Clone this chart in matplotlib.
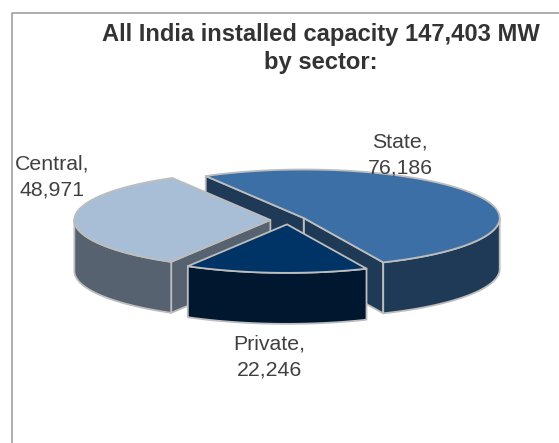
import numpy as np
import matplotlib
matplotlib.use("Agg")
import matplotlib.pyplot as plt
from matplotlib.patches import Polygon

sectors = ["Central", "Private", "State"]
capacity_mw = [48971, 22246, 76186]
top_colors = ["#A8BDD6", "#003366", "#3B6FA5"]
side_colors = ["#566270", "#00182F", "#1F3A56"]
value_labels = ["Central,\n48,971", "Private,\n22,246", "State,\n76,186"]
label_positions = [(52, 177), (269, 357), (400, 155)]

# Pie projection, in figure pixels
CX, CY = 288, 220
RX, RY = 196, 48.5
DEPTH = 51
EXPLODE = 0.09
START_DEG = 120
EDGE = "#BDBDBD"
TEXT = "#404040"

plt.rcParams["font.family"] = ["Liberation Sans", "DejaVu Sans"]
fig = plt.figure(figsize=(5.59, 4.43), dpi=100, facecolor="white")
ax = fig.add_axes([0, 0, 1, 1])
ax.set_xlim(0, 559)
ax.set_ylim(443, 0)
ax.axis("off")

# Chart frame: open at the right and at the bottom of the canvas
ax.plot([11.5, 11.5, 559], [443, 12.5, 12.5], color="#A0A0A0", lw=1.2)


def rim(cx, cy, t):
    """Points on the projected circle; t is measured counter-clockwise on screen."""
    return cx + RX * np.cos(t), cy - RY * np.sin(t)


def extrude(xs, ys, color, z):
    """Vertical wall hanging below a run of top-surface points."""
    pts = np.column_stack([xs, ys])
    low = pts + [0, DEPTH]
    ax.add_patch(Polygon(np.vstack([pts, low[::-1]]), closed=True, facecolor=color,
                         edgecolor=EDGE, lw=1.3, joinstyle="round", zorder=z))


spans = np.array(capacity_mw) / sum(capacity_mw) * 2 * np.pi
starts = np.radians(START_DEG) + np.concatenate([[0], np.cumsum(spans)[:-1]])

# State sits at the back, then Central, then Private in front
for z, i in enumerate([2, 0, 1]):
    t0, t1 = starts[i], starts[i] + spans[i]
    mid = (t0 + t1) / 2
    cx = CX + EXPLODE * RX * np.cos(mid)
    cy = CY - EXPLODE * RY * np.sin(mid)
    t = np.linspace(t0, t1, 240)
    xs, ys = rim(cx, cy, t)

    # Radial walls whose outward side points towards the viewer
    base = 10 * z
    if np.cos(t0) > 0:
        extrude([xs[0], cx], [ys[0], cy], side_colors[i], base + 1)
    if np.cos(t1) < 0:
        extrude([cx, xs[-1]], [cy, ys[-1]], side_colors[i], base + 1)

    # Outer wall: only the part on the front half of the rim
    front = np.sin(t) <= 0
    if front.any():
        extrude(xs[front], ys[front], side_colors[i], base + 2)

    # Top surface
    ax.add_patch(Polygon(np.vstack([np.column_stack([xs, ys]), [cx, cy]]), closed=True,
                         facecolor=top_colors[i], edgecolor=EDGE, lw=1.3,
                         joinstyle="round", zorder=base + 3))

for text, (x, y) in zip(value_labels, label_positions):
    ax.text(x, y, text, ha="center", va="center", fontsize=15.3, color=TEXT,
            linespacing=1.5, zorder=50)

ax.text(321, 48.5, "All India installed capacity 147,403 MW\nby sector:", ha="center",
        va="center", fontsize=17.1, fontweight="bold", color="#333333",
        linespacing=1.28, zorder=50)

fig.savefig("out.png", dpi=100, facecolor="white")
